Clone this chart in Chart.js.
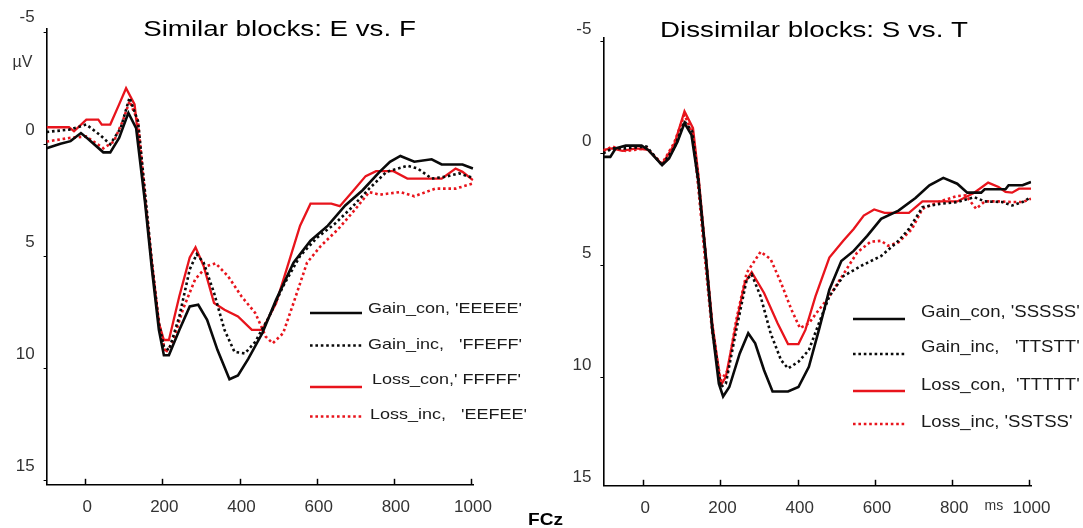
<!DOCTYPE html>
<html>
<head>
<meta charset="utf-8">
<script src="https://cdn.jsdelivr.net/npm/chart.js@4.4.1/dist/chart.umd.min.js"></script>
<style>
  html, body { margin: 0; padding: 0; background: #fff; }
  #wrap { position: relative; width: 1083px; height: 528px; overflow: hidden; background: #fff; }
  #cL { position: absolute; left: 0; top: 0; }
  #cR { position: absolute; left: 540px; top: 0; }
  #fcz { position: absolute; left: 528px; top: 510px; font: bold 17px/19px "Liberation Sans", Arial, sans-serif; color: #000; transform: scaleX(1.12); transform-origin: 0 0; white-space: nowrap; }
</style>
</head>
<body>
<div id="wrap">
  <canvas id="cL" width="540" height="528"></canvas>
  <canvas id="cR" width="543" height="528"></canvas>
  <div id="fcz">FCz</div>
</div>
<script>
// ---------- DATA (ms, µV) ----------
const xTicks = [0, 200, 400, 600, 800, 1000];
const yTicks = [-5, 0, 5, 10, 15];

const leftTitle = "Similar blocks: E vs. F";
const rightTitle = "Dissimilar blocks: S vs. T";
const leftLabels = ["Gain_con, 'EEEEE'", "Gain_inc,   'FFEFF'", "Loss_con,' FFFFF'", "Loss_inc,   'EEFEE'"];
const rightLabels = ["Gain_con, 'SSSSS'", "Gain_inc,   'TTSTT'", "Loss_con,  'TTTTT'", "Loss_inc, 'SSTSS'"];

const leftGainCon = [[-100,0.2],[-64,0],[-38,-0.12],[-11,-0.48],[7,-0.23],[47,0.38],[65,0.38],[88,-0.26],[112,-1.38],[132,-0.7],[155,2.6],[173,5.6],[191,8.3],[204,9.43],[217,9.43],[244,8.3],[271,7.25],[293,7.18],[316,7.85],[343,9.2],[374,10.5],[396,10.33],[423,9.58],[459,8.45],[495,6.95],[540,5.3],[584,4.32],[629,3.65],[674,2.75],[719,2.07],[763,1.25],[790,0.8],[817,0.54],[853,0.8],[898,0.69],[924,0.92],[978,0.92],[1005,1.1]];
const leftGainInc = [[-100,-0.53],[-42,-0.63],[3,-0.86],[38,-0.4],[65,0.02],[92,-0.7],[115,-2.06],[137,-1.0],[155,2.15],[173,5.3],[191,8.0],[204,9.05],[217,9.2],[244,7.7],[271,5.6],[289,4.92],[307,5.3],[334,6.65],[361,8.3],[387,9.28],[414,9.35],[441,8.83],[477,7.7],[513,6.35],[557,5.0],[602,4.17],[647,3.57],[692,2.82],[736,2.0],[781,1.25],[835,0.98],[862,1.1],[898,1.55],[933,1.47],[969,1.32],[1005,1.52]];
const leftLossCon = [[-100,-0.74],[-42,-0.74],[-29,-0.56],[3,-1.08],[34,-1.08],[43,-0.86],[65,-0.86],[88,-1.76],[106,-2.48],[128,-1.76],[150,1.7],[173,5.3],[191,8.0],[204,8.75],[217,8.75],[244,6.8],[271,5.07],[286,4.62],[307,5.45],[334,7.1],[361,7.4],[396,7.7],[432,8.3],[459,8.3],[495,7.1],[522,5.6],[557,3.65],[584,2.67],[638,2.67],[660,2.78],[692,2.15],[727,1.44],[754,1.22],[799,1.22],[835,1.55],[924,1.55],[960,1.1],[978,1.25],[1005,1.62]];
const leftLossInc = [[-100,-0.1],[-42,-0.26],[3,-0.33],[47,0.2],[74,-0.1],[97,-1.0],[115,-1.9],[137,-1.0],[155,2.3],[173,5.45],[191,8.0],[208,9.32],[226,8.9],[253,7.4],[285,6.05],[316,5.45],[338,5.33],[370,5.9],[405,6.8],[441,7.55],[468,8.6],[486,8.9],[513,8.45],[540,7.1],[575,5.3],[611,4.55],[656,3.8],[701,2.9],[736,2.15],[763,2.27],[817,2.15],[853,2.34],[907,2.0],[960,2.0],[1005,1.77]];

const rightGainCon = [[-103,0.17],[-85,0.17],[-71,-0.21],[-45,-0.33],[-4,-0.33],[13,-0.14],[49,0.54],[67,0.24],[89,-0.51],[107,-1.34],[125,-0.81],[143,1.29],[161,4.44],[179,7.9],[196,10.3],[207,10.87],[223,10.45],[250,8.95],[272,8.05],[290,8.5],[313,9.7],[335,10.65],[375,10.65],[402,10.45],[429,9.55],[455,7.9],[482,6.1],[513,4.82],[545,4.37],[580,3.7],[616,2.94],[661,2.57],[705,2.01],[741,1.44],[777,1.11],[813,1.37],[839,1.77],[875,1.77],[884,1.62],[938,1.62],[946,1.44],[982,1.44],[1004,1.29]];
const rightGainInc = [[-103,0.02],[-80,-0.21],[-45,-0.21],[9,-0.29],[49,0.54],[80,-0.21],[107,-1.41],[127,-0.96],[143,1.14],[161,4.44],[179,7.75],[201,10.45],[214,10.3],[241,7.9],[268,5.65],[281,5.42],[304,6.4],[330,8.05],[357,9.25],[375,9.62],[402,9.32],[429,8.8],[455,7.6],[482,6.4],[518,5.5],[563,5.05],[616,4.6],[661,3.92],[688,3.39],[723,2.42],[768,2.27],[813,2.19],[857,1.97],[884,2.16],[929,2.19],[955,2.34],[982,2.19],[1004,1.97]];
const rightLossCon = [[-103,-0.14],[-80,-0.21],[-54,-0.1],[-18,-0.21],[13,-0.14],[49,0.51],[80,-0.36],[107,-1.86],[129,-1.11],[143,0.99],[161,4.29],[179,7.6],[201,10.37],[214,10.0],[241,7.6],[263,5.8],[281,5.32],[313,6.25],[348,7.6],[375,8.53],[402,8.53],[420,7.9],[446,6.4],[482,4.67],[518,3.92],[545,3.39],[571,2.79],[598,2.52],[625,2.67],[688,2.67],[723,2.16],[813,2.16],[857,1.77],[893,1.32],[920,1.52],[938,1.74],[955,1.77],[973,1.59],[1004,1.59]];
const rightLossInc = [[-103,-0.09],[-80,-0.29],[-45,-0.09],[9,-0.21],[49,0.47],[80,-0.44],[107,-1.71],[129,-0.81],[143,1.59],[161,4.9],[179,8.05],[201,10.15],[219,9.7],[241,7.45],[268,5.35],[304,4.41],[330,4.74],[357,5.8],[384,7.0],[406,7.82],[429,7.6],[455,7.0],[482,6.4],[518,5.42],[554,4.44],[589,3.96],[616,3.92],[634,4.14],[661,3.99],[696,3.39],[723,2.49],[768,2.16],[813,1.92],[835,1.89],[862,2.49],[884,2.16],[920,2.16],[955,2.19],[982,2.19],[1004,2.04]];

// ---------- STYLE ----------
const FONT = '"Liberation Sans", Arial, sans-serif';
const RED = '#e8141c';
const BLK = '#0a0a0a';
const styles = [
  { color: BLK, dash: [], width: 2.6 },
  { color: BLK, dash: [2.6, 2.8], width: 2.6 },
  { color: RED, dash: [], width: 2.3 },
  { color: RED, dash: [2.6, 2.8], width: 2.6 }
];

function stretchedText(ctx, text, x, y, sx, align) {
  ctx.save();
  ctx.translate(x, y);
  ctx.scale(sx, 1);
  ctx.textAlign = align;
  ctx.fillText(text, 0, 0);
  ctx.restore();
}

const decor = {
  id: 'decor',
  afterDraw(chart, args, o) {
    const { ctx, chartArea: a, scales: { x, y } } = chart;
    ctx.save();
    // x tick marks pointing inward
    ctx.strokeStyle = '#000';
    ctx.lineWidth = 1.5;
    xTicks.forEach(v => {
      const px = Math.round(x.getPixelForValue(v)) + 0.5;
      ctx.beginPath(); ctx.moveTo(px, a.bottom); ctx.lineTo(px, a.bottom - 6); ctx.stroke();
    });
    // small y tick marks outward
    ctx.lineWidth = 1;
    yTicks.forEach(v => {
      const py = Math.round(y.getPixelForValue(v)) + 0.5;
      if (py > a.top + 2 && py < a.bottom - 2) {
        ctx.beginPath(); ctx.moveTo(a.left - 3, py); ctx.lineTo(a.left, py); ctx.stroke();
      }
    });
    // title
    ctx.fillStyle = '#000';
    ctx.textBaseline = 'middle';
    ctx.font = '22px ' + FONT;
    stretchedText(ctx, o.title, o.titleX, o.titleY, 1.26, 'center');
    // legend
    const ds = chart.data.datasets;
    ds.forEach((d, i) => {
      const ly = o.lineY[i];
      ctx.strokeStyle = d.borderColor;
      ctx.lineWidth = d.borderWidth;
      ctx.setLineDash(d.borderDash || []);
      ctx.beginPath(); ctx.moveTo(o.lineX0, ly); ctx.lineTo(o.lineX1, ly); ctx.stroke();
      ctx.setLineDash([]);
      ctx.fillStyle = '#1a1a1a';
      ctx.font = o.legendSize + 'px ' + FONT;
      stretchedText(ctx, d.label, o.textX[i], o.textY[i], o.legendScale, 'left');
    });
    // unit labels
    ctx.fillStyle = '#333';
    if (o.uv) {
      ctx.font = '16px ' + FONT;
      ctx.textAlign = 'center';
      ctx.textBaseline = 'middle';
      ctx.fillText('µV', o.uv[0], o.uv[1]);
    }
    if (o.ms) {
      ctx.font = '14px ' + FONT;
      ctx.textAlign = 'center';
      ctx.textBaseline = 'alphabetic';
      ctx.fillText('ms', x.getPixelForValue(o.ms[0]), o.ms[1]);
    }
    ctx.restore();
  }
};

function makeChart(id, series, labels, cfg) {
  return new Chart(document.getElementById(id), {
    type: 'line',
    data: {
      datasets: series.map((s, i) => ({
        label: labels[i],
        data: s.map(p => ({ x: p[0], y: p[1] })),
        borderColor: styles[i].color,
        borderWidth: styles[i].width,
        borderDash: styles[i].dash,
        pointRadius: 0,
        tension: 0,
        fill: false
      }))
    },
    options: {
      responsive: false,
      animation: false,
      layout: { padding: { top: cfg.top, right: cfg.right, left: 0, bottom: 0 } },
      plugins: {
        legend: { display: false },
        title: { display: false },
        tooltip: { enabled: false },
        decor: cfg.decor
      },
      scales: {
        x: {
          type: 'linear', min: cfg.xmin, max: cfg.xmax,
          afterFit(s) { s.height = cfg.xh; },
          afterBuildTicks(s) { s.ticks = xTicks.map(v => ({ value: v })); },
          grid: { display: false, drawTicks: false, tickLength: 0 },
          border: { display: true, color: '#000', width: 1.6 },
          ticks: { font: { size: 17, family: FONT }, color: '#333', padding: 12, maxRotation: 0, labelOffset: 2,
                   callback: v => String(v) }
        },
        y: {
          type: 'linear', reverse: true, min: cfg.ymin, max: cfg.ymax,
          afterFit(s) { s.width = cfg.yw; },
          afterBuildTicks(s) { s.ticks = yTicks.map(v => ({ value: v })); },
          grid: { display: false, drawTicks: false, tickLength: 0 },
          border: { display: true, color: '#000', width: 1.6 },
          ticks: { font: { size: 17, family: FONT }, color: '#333', padding: 12, labelOffset: cfg.labelOffset,
                   callback: v => String(v) }
        }
      }
    },
    plugins: [decor]
  });
}

makeChart('cL', [leftGainCon, leftGainInc, leftLossCon, leftLossInc], leftLabels, {
  top: 28.6, right: 66.3, xh: 43.2, yw: 46.6,
  xmin: -100, xmax: 1007, ymin: -5.14, ymax: 15.21, labelOffset: -14,
  decor: {
    title: leftTitle, titleX: 279.5, titleY: 29.5,
    lineX0: 310, lineX1: 362, lineY: [313, 345.5, 387, 416.5],
    textX: [368, 368, 372, 370], textY: [309, 345, 380, 415], legendSize: 15, legendScale: 1.2,
    uv: [22.4, 62.3]
  }
});

makeChart('cR', [rightGainCon, rightGainInc, rightLossCon, rightLossInc], rightLabels, {
  top: 37.7, right: 51.8, xh: 42.2, yw: 63.4,
  xmin: -102.9, xmax: 1004.5, ymin: -5.15, ymax: 14.86, labelOffset: -12,
  decor: {
    title: rightTitle, titleX: 274, titleY: 30.5,
    lineX0: 313, lineX1: 365, lineY: [319, 354, 391, 424],
    textX: [381, 381, 381, 381], textY: [313, 348, 386, 423], legendSize: 16, legendScale: 1.16,
    ms: [908, 510]
  }
});
</script>
</body>
</html>
